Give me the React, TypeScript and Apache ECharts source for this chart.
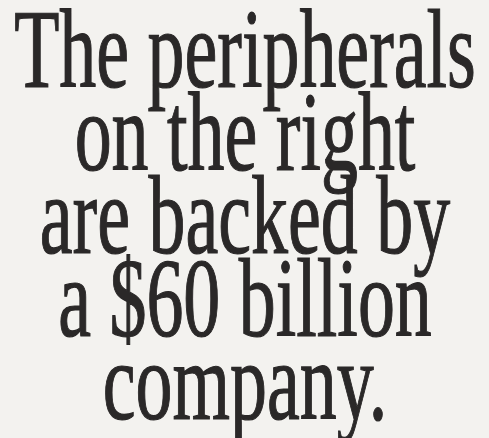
import React, { useEffect, useRef } from "react";
import * as echarts from "echarts";

const headlineLines = ["The peripherals", "on the right", "are backed by", "a $60 billion", "company."];

export default function App() {
  const ref = useRef<HTMLDivElement>(null);
  useEffect(() => {
    document.body.style.margin = "0";
    const chart = echarts.init(ref.current!, null, { renderer: "svg" });
    const fontSize = 112;
    const lineBox = 90;
    const lineGap = 83;
    const firstTop = 4;
    chart.setOption({
      animation: false,
      backgroundColor: "#f3f2ef",
      graphic: headlineLines.map((t, i) => ({
        type: "text",
        x: 245,
        y: firstTop + i * lineGap,
        scaleX: 0.66,
        style: {
          text: t,
          x: 0,
          y: 0,
          textAlign: "center",
          textVerticalAlign: "top",
          fontFamily: "Liberation Serif",
          fontSize: fontSize,
          lineHeight: lineBox,
          fill: "#2a2828",
          stroke: "#2a2828",
          lineWidth: 1.2,
        },
      })),
    });
    return () => chart.dispose();
  }, []);
  return <div ref={ref} style={{ width: 489, height: 438 }} />;
}
